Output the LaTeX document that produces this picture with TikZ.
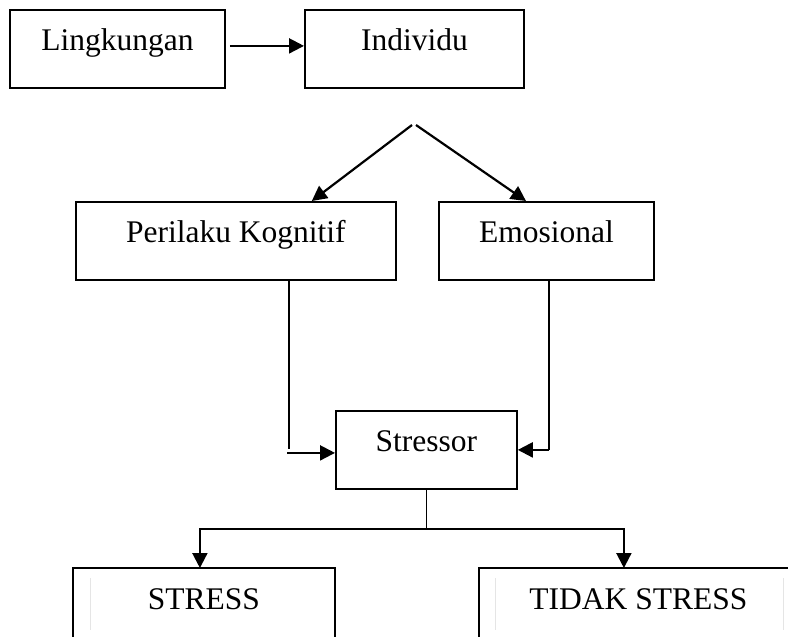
\documentclass[tikz,border=0pt]{standalone}
\usepackage{fontspec}
\setmainfont{Liberation Serif}
\usetikzlibrary{arrows.meta,calc}
\tikzset{
  boxnode/.style={line width=1.8pt, inner xsep=0pt, inner ysep=0pt, text height=41pt, text depth=37pt, anchor=north west, font=\fontsize{31.5}{36}\selectfont},
  closedbox/.style={boxnode, draw},
  arr/.style={-{Triangle[length=15pt,width=15pt]}, line width=2.2pt},
  thinline/.style={line width=1.4pt},
  openedge/.style={line width=1.8pt},
  faint/.style={line width=0.6pt, draw=black!10}
}
\begin{document}
\begin{tikzpicture}[x=1pt,y=-1pt]
\useasboundingbox (0,0) rectangle (788,637);
\clip (0,0) rectangle (788,637);
% boxes
\node[closedbox, minimum width=215pt] (L) at (9,9) {Lingkungan};
\node[closedbox, minimum width=219pt] (I) at (304,9) {Individu};
\node[closedbox, minimum width=320pt] (P) at (75,201) {Perilaku Kognitif};
\node[closedbox, minimum width=215pt] (E) at (438,201) {Emosional};
\node[closedbox, minimum width=181pt] (S) at (335,410) {Stressor};
\node[boxnode, minimum width=260pt] (ST) at (73,568) {STRESS};
\node[boxnode, minimum width=317pt] (TS) at (479,568) {TIDAK STRESS};
% open boxes (cut by the bottom edge)
\draw[openedge] (ST.south west) -- (ST.north west) -- (ST.north east) -- (ST.south east);
\draw[openedge] (TS.south west) -- (TS.north west) -- (TS.north east) -- (TS.south east);
% faint margin guides
\coordinate (g1) at ([xshift=17pt,yshift=-10pt]ST.north west);
\coordinate (g2) at ([xshift=16pt,yshift=-10pt]TS.north west);
\coordinate (g3) at ([xshift=304pt,yshift=-10pt]TS.north west);
\draw[faint] (g1) -- ++(0,52);
\draw[faint] (g2) -- ++(0,52);
\draw[faint] (g3) -- ++(0,52);
% Lingkungan -> Individu
\draw[arr] ($(L.east)+(4,-3)$) -- ($(I.west)+(0,-3)$);
% split to Perilaku / Emosional
\coordinate (v1) at (412,125);
\coordinate (v2) at (416,125);
\draw[arr] (v1) -- ([xshift=-85pt]P.north east);
\draw[arr] (v2) -- ([xshift=88pt]E.north west);
% Perilaku -> Stressor
\coordinate (pl) at ([xshift=214pt]P.south west);
\draw[thinline] (pl) -- ++(0,168);
\draw[arr] ($(S.west)+(-48,3)$) -- ($(S.west)+(0,3)$);
% Emosional -> Stressor
\coordinate (er) at ([xshift=111pt]E.south west);
\draw[thinline] (er) -- (er |- S.east);
\draw[arr] (er |- S.east) -- (S.east);
% Stressor -> STRESS / TIDAK STRESS
\coordinate (j) at ($(S.south)+(0,39)$);
\draw[thinline] (S.south) -- (j);
\draw[arr] (j) -| ([xshift=-4pt]ST.north);
\draw[arr] (j) -| ([xshift=-14.5pt]TS.north);
\end{tikzpicture}
\end{document}
